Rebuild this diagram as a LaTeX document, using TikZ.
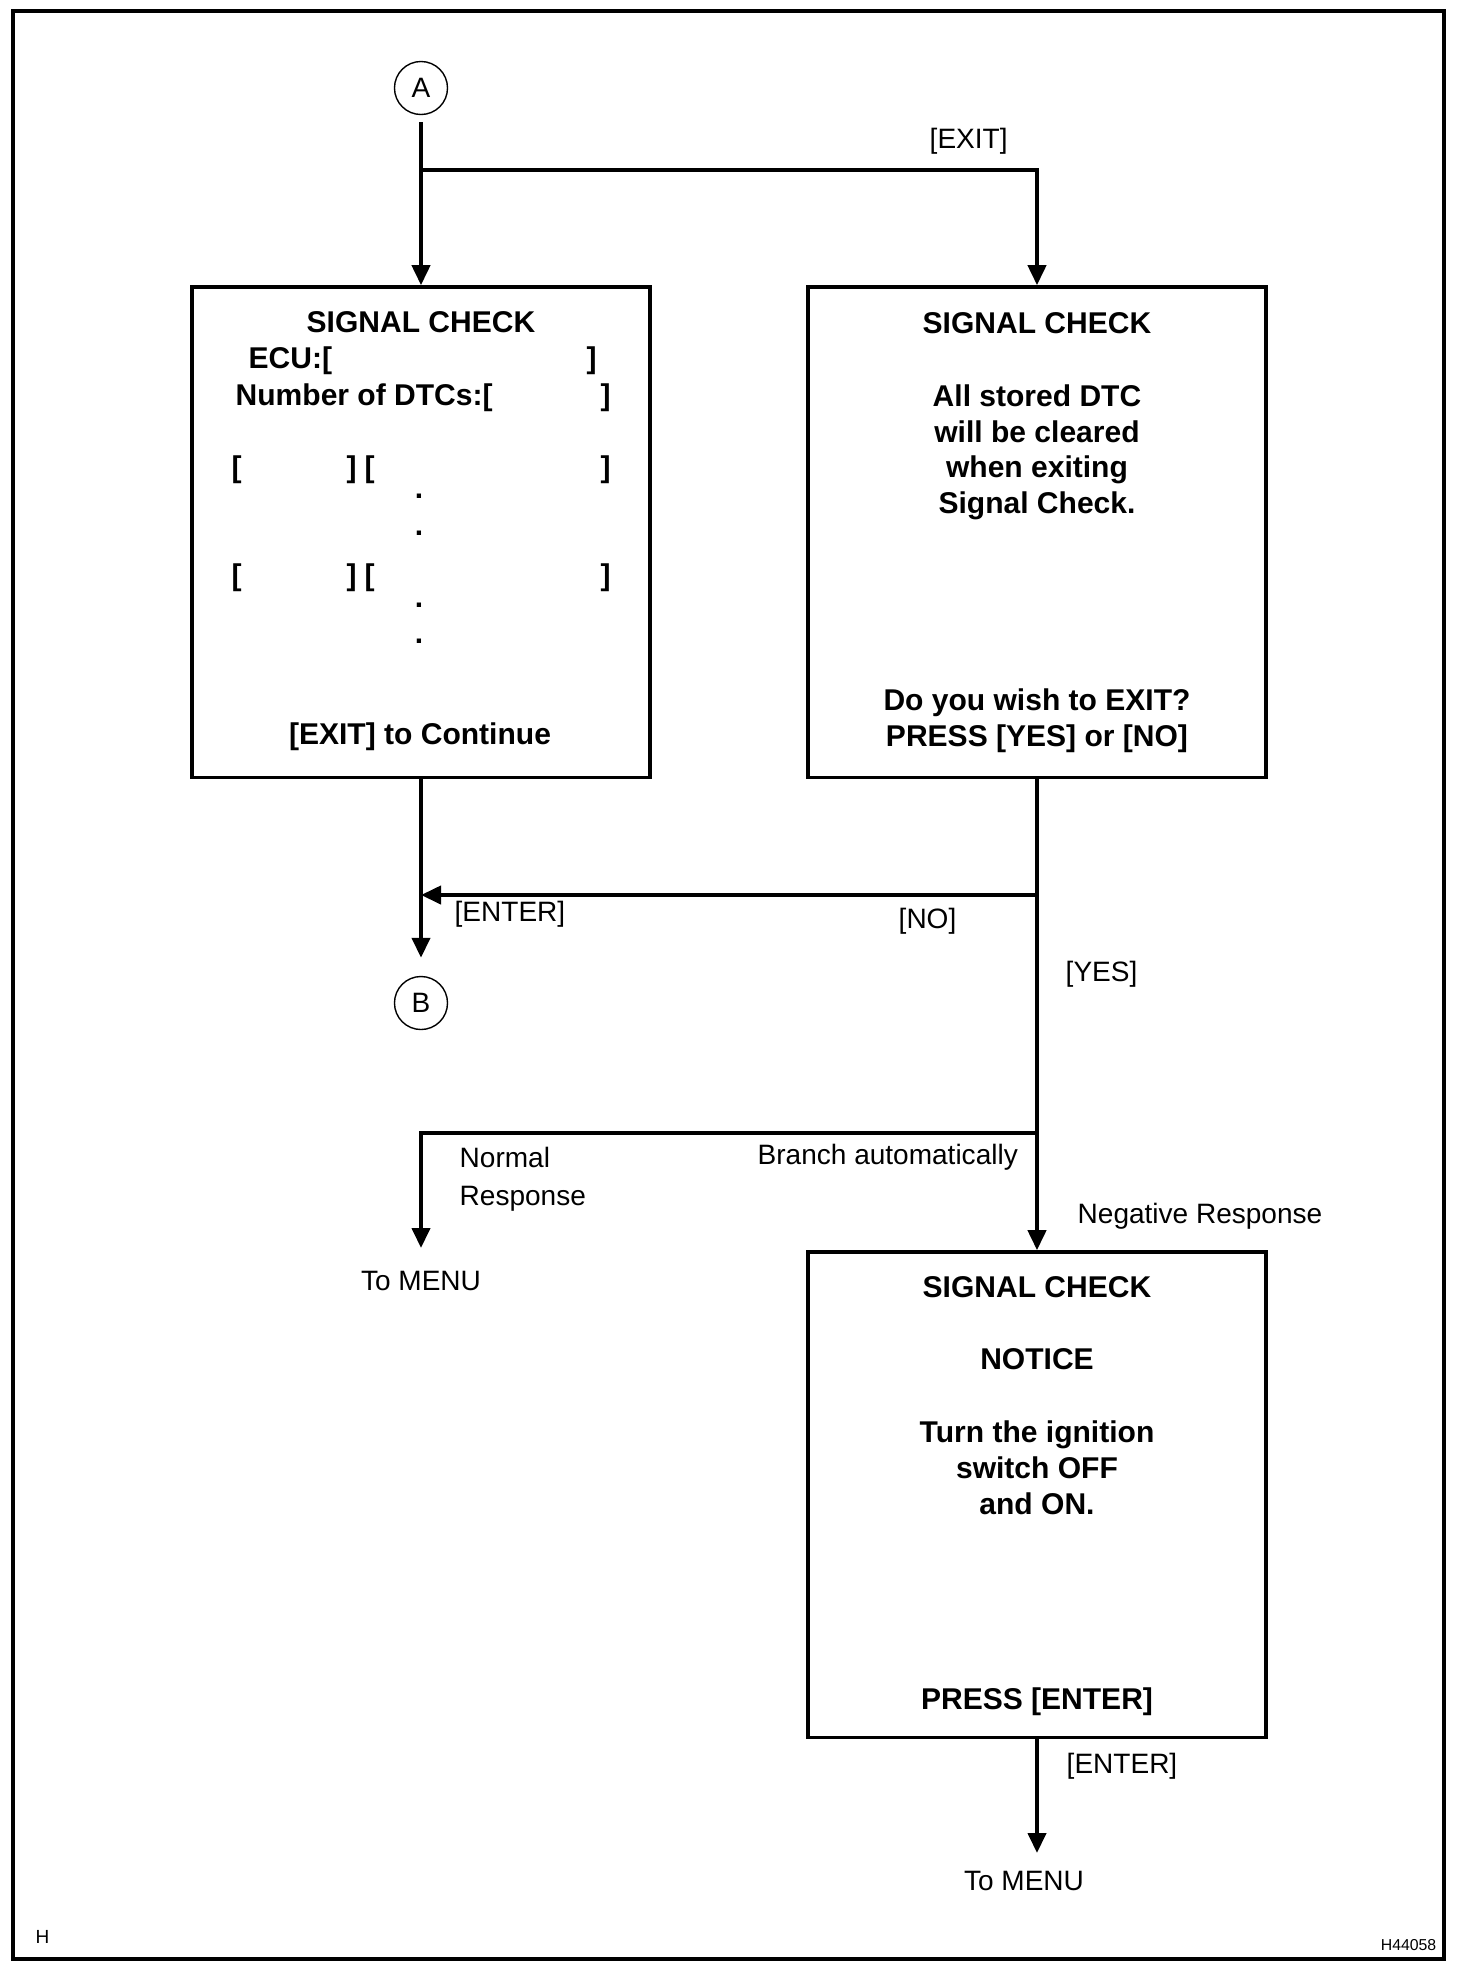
\documentclass[tikz,border=0pt]{standalone}
\usepackage{fontspec}
\setmainfont{Liberation Sans}
\usepackage{tikz}
\usetikzlibrary{arrows.meta}
\usetikzlibrary{positioning}
\tikzset{
    scrbox/.style = {rectangle, draw=black, line width=0.033cm, minimum width=4.58cm, minimum height=4.9cm, inner sep=0},
    refnode/.style = {circle, draw=black, line width=0.014cm, minimum size=0.53cm, inner sep=0, font=\fontsize{7.97}{9}\selectfont},
    btext/.style = {inner sep=0, anchor=base, font=\fontsize{8.54}{10}\selectfont\bfseries},
    btextl/.style = {btext, anchor=base west},
    lbl/.style = {inner sep=0, anchor=base west, font=\fontsize{7.97}{9}\selectfont},
}

\begin{document}
\begin{tikzpicture}[
	x=0.01cm,
	y=-0.01cm
]
\tikzset{
    flow/.style = {-{Triangle[length=0.2cm,width=0.18cm]}, line width=0.04cm},
    frame/.style = {line width=0.034cm}
}
\useasboundingbox (0,0) rectangle (1472,1972);
% frame
\draw[frame] (13,11) rectangle (1444,1959);
%
\node[scrbox] at (421,532) (sig) {};
\node[scrbox] at (1037,532) (ext) {};
\node[scrbox, minimum height=4.85cm] at (1037,1494.5) (ntc) {};
\node[refnode] at (421,88) (a) {A};
\node[refnode] at (421,1003) (b) {B};
%
\coordinate (ja) at (421,170);
\coordinate (jno) at (1037,895);
\coordinate (jnol) at (421,895);
\coordinate (jbr) at (1037,1133);
\coordinate (mnl) at (421,1248);
\coordinate (mnr) at (1037,1853);
%
\draw[flow, shorten <=0.07cm] (a) -- (sig);
\draw[flow] (ja) -| (ext);
\draw[flow, shorten >=0.18cm] (sig) -- (b);
\draw[flow] (ext) -- (ntc);
\draw[flow] (jno) -- (jnol);
\draw[flow] (jbr) -| (mnl);
\draw[flow] (ntc) -- (mnr);
%
\node[btext] at (421,332) {SIGNAL CHECK};
\node[btextl] at (248,368) {ECU:[};
\node[btextl] at (586,368) {]};
\node[btextl] at (235,405) {Number of DTCs:[};
\node[btextl] at (600,405) {]};
\foreach \y in {477,585} {
    \node[btextl] at (231,\y) {[};
    \node[btextl] at (346,\y) {]};
    \node[btextl] at (364,\y) {[};
    \node[btextl] at (600,\y) {]};
}
\foreach \y in {498,535,607,643}
    \node[btext] at (419,\y) {.};
\node[btext] at (420,744) {[EXIT] to Continue};
%
\node[btext] at (1037,333) {SIGNAL CHECK};
\foreach \txt [count=\i] in {All stored DTC,will be cleared,when exiting,Signal Check.}
    \node[btext] at (1037,371+35.5*\i) {\txt};
\node[btext] at (1037,710) {Do you wish to EXIT?};
\node[btext] at (1037,746) {PRESS [YES] or [NO]};
%
\node[btext] at (1037,1297) {SIGNAL CHECK};
\node[btext] at (1037,1369) {NOTICE};
\foreach \txt [count=\i] in {Turn the ignition,switch OFF,and ON.}
    \node[btext] at (1037,1406+36*\i) {\txt};
\node[btext] at (1037,1709) {PRESS [ENTER]};
%
\node[lbl] at (929,148) {[EXIT]};
\node[lbl] at (454,921) {[ENTER]};
\node[lbl] at (898,928) {[NO]};
\node[lbl] at (1065,981) {[YES]};
\node[lbl] at (459,1167) {Normal};
\node[lbl] at (459,1205) {Response};
\node[lbl] at (757,1164) {Branch automatically};
\node[lbl] at (1077,1223) {Negative Response};
\node[lbl, anchor=base] at (421,1290) {To MENU};
\node[lbl] at (1066,1773) {[ENTER]};
\node[lbl, anchor=base] at (1024,1890) {To MENU};
\node[lbl, font=\fontsize{5.4}{6}\selectfont] at (35,1943) {H};
\node[lbl, anchor=base east, font=\fontsize{4.5}{5}\selectfont] at (1437,1950) {H44058};
\end{tikzpicture}
\end{document}
